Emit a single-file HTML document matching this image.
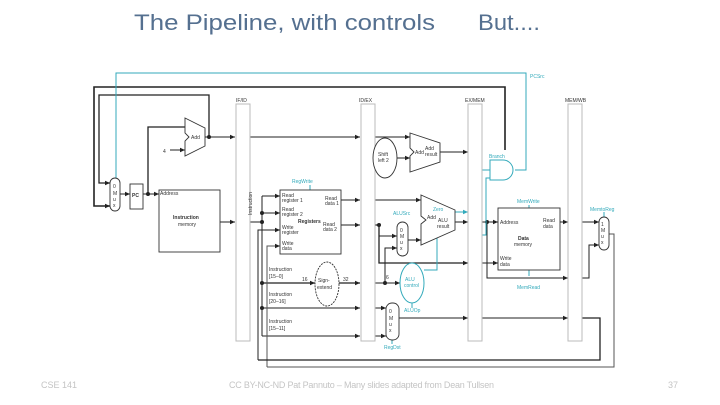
<!DOCTYPE html>
<html><head><meta charset="utf-8"><style>
html,body{margin:0;padding:0;background:#fff;}
svg{display:block;font-family:"Liberation Sans",sans-serif;}
</style></head><body>
<svg width="720" height="405" viewBox="0 0 720 405" xmlns="http://www.w3.org/2000/svg">
<defs>
<marker id="a" markerWidth="6" markerHeight="6" refX="5" refY="3" orient="auto" markerUnits="userSpaceOnUse"><path d="M0,0.8 L5,3 L0,5.2z" fill="#222"/></marker>
<marker id="c" markerWidth="6" markerHeight="6" refX="5" refY="3" orient="auto" markerUnits="userSpaceOnUse"><path d="M0,0.8 L5,3 L0,5.2z" fill="#3ab"/></marker>
</defs>
<text x="134" y="30" font-size="22" fill="#557090" textLength="301" lengthAdjust="spacingAndGlyphs">The Pipeline, with controls</text>
<text x="478" y="30" font-size="22" fill="#557090" textLength="62" lengthAdjust="spacingAndGlyphs">But....</text>

<g fill="none" stroke="#222" stroke-width="1">
<path d="M505,150 V87 H94 V206 H110" stroke-width="1.6" marker-end="url(#a)"/>
<path d="M209,137 V95 H99 V183 H110" stroke-width="1.3" marker-end="url(#a)"/>
<path d="M120,194 H130" marker-end="url(#a)"/>
<path d="M143,194 H159" marker-end="url(#a)"/>
<path d="M148,194 V127 H185" stroke-width="1.3"/>
<path d="M170,150 H185" marker-end="url(#a)"/>
<path d="M205,137 H235" marker-end="url(#a)"/>
<path d="M220,222 H235" marker-end="url(#a)"/>
<path d="M250,137 H360" marker-end="url(#a)"/>
<path d="M250,222 H262"/>
<path d="M262,196 V336"/>
<path d="M262,196 H280" marker-end="url(#a)"/>
<path d="M262,213 H280" marker-end="url(#a)"/>
<path d="M262,283 H315" stroke-width="1.3" marker-end="url(#a)"/>
<path d="M262,308 H360" marker-end="url(#a)"/>
<path d="M262,336 H360" marker-end="url(#a)"/>
<path d="M258,360 V230 H280" marker-end="url(#a)"/>
<path d="M267,367 V246 H280" marker-end="url(#a)" stroke="#555"/>
<path d="M341,200 H360" marker-end="url(#a)"/>
<path d="M341,225 H360" marker-end="url(#a)"/>
<path d="M339,283 H360" stroke-width="1.3" marker-end="url(#a)"/>
<path d="M375,137 H410" marker-end="url(#a)"/>
<path d="M375,200 H421" marker-end="url(#a)"/>
<path d="M375,225 H379 V263 H468" stroke-width="1.3" marker-end="url(#a)"/>
<path d="M379,225 V236 H397" marker-end="url(#a)"/>
<path d="M375,283 H385 V248 H397" marker-end="url(#a)"/>
<path d="M385,283 H400" marker-end="url(#a)"/>
<path d="M397,158 H410" marker-end="url(#a)"/>
<path d="M375,308 H386" marker-end="url(#a)"/>
<path d="M375,336 H386" marker-end="url(#a)"/>
<path d="M408,240 H421" marker-end="url(#a)"/>
<path d="M440,152 H468" marker-end="url(#a)"/>
<path d="M455,222 H468" marker-end="url(#a)"/>
<path d="M399,318 H468" marker-end="url(#a)"/>
<path d="M482,222 H498" marker-end="url(#a)"/>
<path d="M487,222 V278 H568" marker-end="url(#a)"/>
<path d="M482,263 H498" marker-end="url(#a)"/>
<path d="M482,318 H568" marker-end="url(#a)"/>
<path d="M560,222 H568" marker-end="url(#a)"/>
<path d="M582,222 H599" marker-end="url(#a)"/>
<path d="M582,278 H589 V245 H599" marker-end="url(#a)"/>
<path d="M582,318 H600 V360 H258" stroke-width="1.3"/>
<path d="M609,234 H614 V367 H267" stroke="#555"/>
</g>
<g fill="#222"><circle cx="148" cy="194" r="2"/><circle cx="209" cy="137" r="2"/><circle cx="262" cy="222" r="2"/><circle cx="262" cy="213" r="2"/><circle cx="262" cy="283" r="2"/><circle cx="262" cy="308" r="2"/><circle cx="379" cy="225" r="2"/><circle cx="385" cy="283" r="2"/><circle cx="487" cy="222" r="2"/></g>

<g fill="none" stroke="#3ab" stroke-width="1">
<path d="M116,180 V73 H526 V170 H515"/>
<path d="M482,170 H490"/>
<path d="M482,235 H486 V178 H490"/>
<path d="M455,212 H468" marker-end="url(#c)"/>
<path d="M490,160 H503 A10,10 0 0 1 503,180 H490 Z" fill="#fff"/>
<path d="M437,222 V270 H424"/>
<ellipse cx="412" cy="283" rx="12" ry="20" fill="#fff"/>
<path d="M412,303 V308"/><path d="M403,222 V226"/><path d="M529,205 V208"/><path d="M529,270 V276"/><path d="M604,212 V217"/><path d="M392,340 V344"/><path d="M310,185 V190"/>
</g>

<g fill="#fff" stroke="#bbb" stroke-width="1">
<rect x="236" y="104" width="14" height="237"/>
<rect x="361" y="104" width="14" height="237"/>
<rect x="468" y="104" width="14" height="237"/>
<rect x="568" y="104" width="14" height="237"/>
</g>
<g fill="#fff" stroke="#333" stroke-width="0.9">
<rect x="130" y="184" width="13" height="25"/>
<rect x="159" y="190" width="61" height="62"/>
<rect x="280" y="190" width="61" height="64"/>
<rect x="498" y="208" width="62" height="62"/>
<rect x="110" y="178" width="10" height="33" rx="5"/>
<rect x="397" y="222" width="11" height="34" rx="5.5"/>
<rect x="386" y="303" width="13" height="37" rx="6"/>
<rect x="599" y="217" width="10" height="33" rx="5"/>
<path d="M185,118 L205,128 V146 L185,156 V141 L189,137 L185,133 Z"/>
<path d="M410,133 L440,143 V162 L410,172 V156 L414,152 L410,148 Z"/>
<path d="M421,195 L455,210 V230 L421,245 V224 L426,220 L421,216 Z"/>
<ellipse cx="385" cy="158" rx="12" ry="20"/>
<ellipse cx="327" cy="284" rx="12" ry="22" stroke-dasharray="2,1"/>
</g>

<g font-size="5" fill="#333">
<text x="236" y="102">IF/ID</text><text x="359" y="102">ID/EX</text><text x="465" y="102">EX/MEM</text><text x="565" y="102">MEM/WB</text>
<text x="191" y="139">Add</text><text x="163" y="153">4</text>
<text x="113" y="188">0</text><text x="113" y="195">M</text><text x="113" y="201">u</text><text x="113" y="207">x</text>
<text x="132" y="197" font-weight="bold">PC</text>
<text x="160" y="195">Address</text>
<text x="173" y="219" font-weight="bold">Instruction</text><text x="178" y="226">memory</text>
<text x="282" y="197">Read</text><text x="282" y="202">register 1</text>
<text x="282" y="211">Read</text><text x="282" y="216">register 2</text>
<text x="282" y="229">Write</text><text x="282" y="234">register</text>
<text x="282" y="245">Write</text><text x="282" y="250">data</text>
<text x="325" y="200">Read</text><text x="325" y="205">data 1</text>
<text x="323" y="226">Read</text><text x="323" y="231">data 2</text>
<text x="298" y="223" font-weight="bold">Registers</text>
<text x="318" y="282">Sign-</text><text x="317" y="289">extend</text>
<text x="269" y="271">Instruction</text><text x="269" y="278">[15–0]</text>
<text x="269" y="296">Instruction</text><text x="269" y="303">[20–16]</text>
<text x="269" y="323">Instruction</text><text x="269" y="330">[15–11]</text>
<text x="302" y="281">16</text><text x="343" y="281">32</text>
<text x="378" y="156">Shift</text><text x="378" y="162">left 2</text>
<text x="415" y="154">Add</text><text x="425" y="150">Add</text><text x="425" y="156">result</text>
<text x="427" y="219">Add</text><text x="438" y="222">ALU</text><text x="437" y="228">result</text>
<text x="400" y="232">0</text><text x="400" y="238">M</text><text x="400" y="244">u</text><text x="400" y="250">x</text>
<text x="389" y="313">0</text><text x="389" y="320">M</text><text x="389" y="326">u</text><text x="389" y="332">x</text>
<text x="601" y="226">1</text><text x="601" y="232">M</text><text x="601" y="238">u</text><text x="601" y="244">x</text>
<text x="386" y="279">6</text>
<text x="500" y="224">Address</text><text x="543" y="222">Read</text><text x="543" y="228">data</text>
<text x="518" y="240" font-weight="bold">Data</text><text x="514" y="246">memory</text>
<text x="500" y="260">Write</text><text x="500" y="266">data</text>
<text x="252" y="215" transform="rotate(-90 252 215)">Instruction</text>
</g>
<g font-size="5" fill="#3ab">
<text x="530" y="78">PCSrc</text><text x="489" y="158">Branch</text><text x="433" y="211">Zero</text>
<text x="292" y="183">RegWrite</text><text x="393" y="215">ALUSrc</text>
<text x="405" y="281">ALU</text><text x="404" y="287">control</text><text x="404" y="312">ALUOp</text>
<text x="384" y="349">RegDst</text><text x="517" y="203">MemWrite</text><text x="517" y="289">MemRead</text>
<text x="590" y="211">MemtoReg</text>
</g>

<g font-size="9" fill="#c4c4c4">
<text x="41" y="388">CSE 141</text>
<text x="229" y="388" textLength="265">CC BY-NC-ND Pat Pannuto – Many slides adapted from Dean Tullsen</text>
<text x="668" y="388">37</text>
</g>
</svg>
</body></html>
